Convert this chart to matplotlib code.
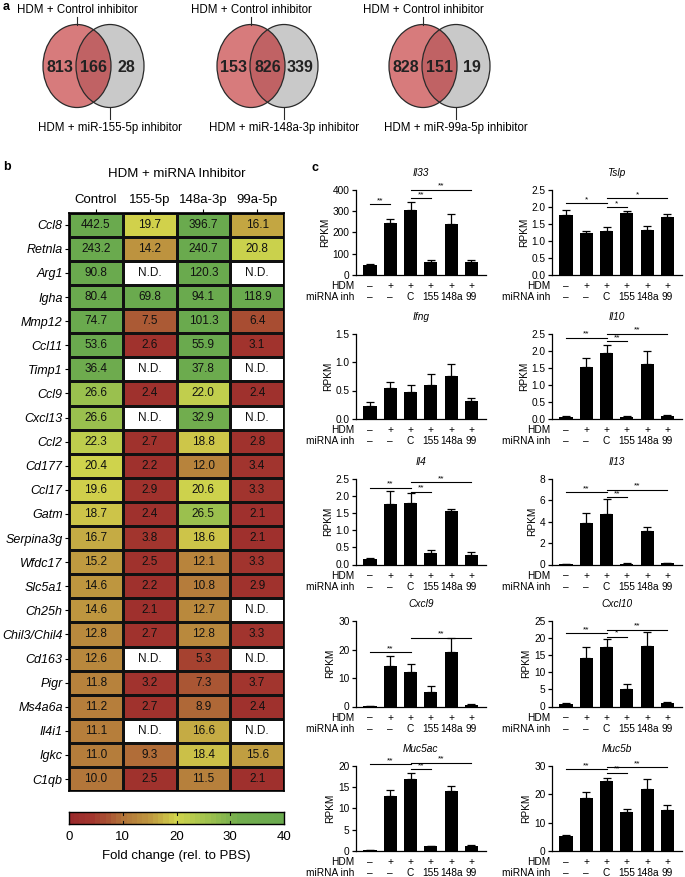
import numpy as np
import matplotlib
matplotlib.use("Agg")
import matplotlib.pyplot as plt
from matplotlib.patches import Ellipse
from matplotlib.colors import LinearSegmentedColormap
import matplotlib.transforms as mtransforms

plt.rcParams['font.family'] = ['Liberation Sans', 'DejaVu Sans']

# ---- panel a: Venn counts ----
venn_only_ctrl = [813, 153, 828]
venn_shared = [166, 826, 151]
venn_only_inh = [28, 339, 19]
venn_ctrl_name = "HDM + Control inhibitor"
venn_inh_names = ["HDM + miR-155-5p inhibitor", "HDM + miR-148a-3p inhibitor",
                  "HDM + miR-99a-5p inhibitor"]

# ---- panel b: heatmap fold changes (nan = N.D.) ----
genes = ["Ccl8", "Retnla", "Arg1", "Igha", "Mmp12", "Ccl11", "Timp1", "Ccl9", "Cxcl13",
         "Ccl2", "Cd177", "Ccl17", "Gatm", "Serpina3g", "Wfdc17", "Slc5a1", "Ch25h",
         "Chil3/Chil4", "Cd163", "Pigr", "Ms4a6a", "Il4i1", "Igkc", "C1qb"]
conditions = ["Control", "155-5p", "148a-3p", "99a-5p"]
nd = np.nan
fc_control = [442.5, 243.2, 90.8, 80.4, 74.7, 53.6, 36.4, 26.6, 26.6, 22.3, 20.4, 19.6,
              18.7, 16.7, 15.2, 14.6, 14.6, 12.8, 12.6, 11.8, 11.2, 11.1, 11.0, 10.0]
fc_155 = [19.7, 14.2, nd, 69.8, 7.5, 2.6, nd, 2.4, nd, 2.7, 2.2, 2.9,
          2.4, 3.8, 2.5, 2.2, 2.1, 2.7, nd, 3.2, 2.7, nd, 9.3, 2.5]
fc_148a = [396.7, 240.7, 120.3, 94.1, 101.3, 55.9, 37.8, 22.0, 32.9, 18.8, 12.0, 20.6,
           26.5, 18.6, 12.1, 10.8, 12.7, 12.8, 5.3, 7.3, 8.9, 16.6, 18.4, 11.5]
fc_99a = [16.1, 20.8, nd, 118.9, 6.4, 3.1, nd, 2.4, nd, 2.8, 3.4, 3.3,
          2.1, 2.1, 3.3, 2.9, nd, 3.3, nd, 3.7, 2.4, nd, 15.6, 2.1]

# ---- panel c: RPKM bars ----
hdm_row = ["\u2013", "+", "+", "+", "+", "+"]
inh_row = ["\u2013", "\u2013", "C", "155", "148a", "99"]

bar_genes = ["Il33", "Tslp", "Ifng", "Il10", "Il4", "Il13", "Cxcl9", "Cxcl10", "Muc5ac", "Muc5b"]
bar_means = {
    "Il33": [45, 245, 305, 60, 240, 62],
    "Tslp": [1.76, 1.23, 1.29, 1.81, 1.33, 1.71],
    "Ifng": [0.22, 0.55, 0.48, 0.60, 0.75, 0.32],
    "Il10": [0.07, 1.53, 1.93, 0.07, 1.62, 0.08],
    "Il4": [0.15, 1.78, 1.80, 0.33, 1.55, 0.29],
    "Il13": [0.02, 3.85, 4.70, 0.08, 3.10, 0.10],
    "Cxcl9": [0.2, 14.3, 12.2, 5.2, 19.0, 0.7],
    "Cxcl10": [0.8, 14.1, 17.3, 5.0, 17.8, 1.1],
    "Muc5ac": [0.2, 12.8, 16.9, 1.1, 14.0, 1.3],
    "Muc5b": [5.2, 18.5, 24.6, 13.7, 22.0, 14.3],
}
bar_errs = {
    "Il33": [8, 18, 35, 8, 45, 8],
    "Tslp": [0.15, 0.07, 0.12, 0.07, 0.11, 0.07],
    "Ifng": [0.07, 0.10, 0.11, 0.19, 0.22, 0.04],
    "Il10": [0.03, 0.25, 0.23, 0.03, 0.38, 0.03],
    "Il4": [0.05, 0.37, 0.30, 0.08, 0.08, 0.07],
    "Il13": [0.02, 0.95, 1.45, 0.04, 0.40, 0.05],
    "Cxcl9": [0.1, 3.5, 2.6, 2.0, 5.1, 0.2],
    "Cxcl10": [0.2, 3.3, 2.3, 1.6, 3.9, 0.2],
    "Muc5ac": [0.1, 1.6, 1.3, 0.15, 1.2, 0.2],
    "Muc5b": [0.6, 2.2, 1.2, 1.2, 3.2, 2.0],
}
bar_ymax = {"Il33": 400, "Tslp": 2.5, "Ifng": 1.5, "Il10": 2.5, "Il4": 2.5,
            "Il13": 8, "Cxcl9": 30, "Cxcl10": 25, "Muc5ac": 20, "Muc5b": 30}
bar_ystep = {"Il33": 100, "Tslp": 0.5, "Ifng": 0.5, "Il10": 0.5, "Il4": 0.5,
             "Il13": 2, "Cxcl9": 10, "Cxcl10": 5, "Muc5ac": 5, "Muc5b": 10}
# (bar i, bar j, height, label)
bar_sig = {
    "Il33": [(0, 1, 330, "**"), (2, 3, 360, "**"), (2, 5, 400, "**")],
    "Tslp": [(0, 2, 2.10, "*"), (2, 3, 1.98, "*"), (2, 5, 2.25, "*")],
    "Ifng": [],
    "Il10": [(0, 2, 2.38, "**"), (2, 3, 2.27, "**"), (2, 5, 2.50, "**")],
    "Il4": [(0, 2, 2.25, "**"), (2, 3, 2.13, "**"), (2, 5, 2.40, "**")],
    "Il13": [(0, 2, 6.75, "**"), (2, 3, 6.30, "**"), (2, 5, 7.00, "**")],
    "Cxcl9": [(0, 2, 19.0, "**"), (2, 5, 24.2, "**")],
    "Cxcl10": [(0, 2, 21.5, "**"), (2, 3, 20.4, "*"), (2, 5, 22.5, "**")],
    "Muc5ac": [(0, 2, 20.4, "**"), (2, 3, 19.2, "**"), (2, 5, 20.7, "**")],
    "Muc5b": [(0, 2, 28.7, "**"), (2, 3, 27.5, "**"), (2, 5, 29.4, "**")],
}

W, H = 685, 877
fig = plt.figure(figsize=(W / 100, H / 100), dpi=100)


def px_axes(x0, y0, w, h):
    # rect given in pixels from top-left
    return fig.add_axes([x0 / W, 1 - (y0 + h) / H, w / W, h / H])


# ================= panel a =================
ax_a = px_axes(0, 0, W, 140)
ax_a.set_xlim(0, W)
ax_a.set_ylim(140, 0)
ax_a.axis("off")
venn_x = [77, 251, 423]
venn_w, venn_h, venn_off, venn_y = 68, 83, 33, 66
for k in range(3):
    cx = venn_x[k]
    left = Ellipse((cx, venn_y), venn_w, venn_h, facecolor="#d77b7c", edgecolor="none")
    right = Ellipse((cx + venn_off, venn_y), venn_w, venn_h, facecolor="#c9c9c9", edgecolor="none")
    ax_a.add_patch(left)
    ax_a.add_patch(right)
    inter = Ellipse((cx + venn_off, venn_y), venn_w, venn_h, facecolor="#c06264", edgecolor="none")
    ax_a.add_patch(inter)
    inter.set_clip_path(left)
    for ex in (cx, cx + venn_off):
        ax_a.add_patch(Ellipse((ex, venn_y), venn_w, venn_h, facecolor="none",
                               edgecolor="#2a2a2a", lw=0.9))
    nums = [venn_only_ctrl[k], venn_shared[k], venn_only_inh[k]]
    xs = [cx - 17, cx + venn_off / 2, cx + venn_off + 16]
    for xx, n in zip(xs, nums):
        ax_a.text(xx, venn_y + 1, str(n), ha="center", va="center", fontsize=11.5,
                  fontweight="bold", color="#222222")
    ax_a.text(cx, 10, venn_ctrl_name, ha="center", va="center", fontsize=8.3)
    ax_a.plot([cx, cx], [17, venn_y - venn_h / 2], color="#2a2a2a", lw=0.8)
    ax_a.text(cx + venn_off, 128, venn_inh_names[k], ha="center", va="center", fontsize=8.3)
    ax_a.plot([cx + venn_off, cx + venn_off], [venn_y + venn_h / 2, 119], color="#2a2a2a", lw=0.8)
ax_a.text(3, 7, "a", ha="left", va="center", fontsize=9, fontweight="bold")

# ================= panel b =================
fig.text(3 / W, 1 - 167 / H, "b", ha="left", va="center", fontsize=9, fontweight="bold")
data = np.array([fc_control, fc_155, fc_148a, fc_99a]).T
cmap = LinearSegmentedColormap.from_list("fc", [
    (0.0, "#9a2a2c"), (0.10, "#a3362e"), (0.18, "#aa5634"), (0.25, "#b3763a"),
    (0.38, "#bf9a40"), (0.50, "#d2d44c"), (0.62, "#a8c64e"), (0.80, "#72ad4e"),
    (1.0, "#6aaa4e")])
cmap.set_bad("white")
ax_b = px_axes(69, 212.7, 215, 24.1 * len(genes))
masked = np.ma.masked_invalid(data)
ax_b.pcolormesh(masked, cmap=cmap, vmin=0, vmax=40, edgecolors="#111111", linewidth=1.0)
ax_b.set_xlim(0, len(conditions))
ax_b.set_ylim(len(genes), 0)
for i in range(len(genes)):
    for j in range(len(conditions)):
        v = data[i, j]
        ax_b.text(j + 0.5, i + 0.5, "N.D." if np.isnan(v) else f"{v:.1f}",
                  ha="center", va="center", fontsize=8.5, color="#111111")
ax_b.set_yticks(np.arange(len(genes)) + 0.5)
ax_b.set_yticklabels(genes, fontsize=9, style="italic")
ax_b.set_xticks(np.arange(len(conditions)) + 0.5)
ax_b.set_xticklabels(conditions, fontsize=9.5)
ax_b.xaxis.tick_top()
ax_b.tick_params(axis="both", length=3, width=0.8, pad=1.5)
for s in ax_b.spines.values():
    s.set_linewidth(1.2)
ax_b.set_title("HDM + miRNA Inhibitor", fontsize=9.5, pad=26)

ax_cb = px_axes(69, 812, 215, 12)
grad = np.linspace(0, 40, 41).reshape(1, -1)
ax_cb.pcolormesh(np.linspace(0, 40, 42), [0, 1], grad, cmap=cmap, vmin=0, vmax=40)
ax_cb.set_xlim(0, 40)
ax_cb.set_ylim(0, 1)
ax_cb.set_yticks([])
ax_cb.set_xticks([0, 10, 20, 30, 40])
ax_cb.tick_params(axis="x", labelsize=9.5, length=0, pad=5)
for t in [10, 20, 30]:
    ax_cb.plot([t, t], [0, 0.25], color="#111111", lw=0.8)
    ax_cb.plot([t, t], [0.75, 1], color="#111111", lw=0.8)
for s in ax_cb.spines.values():
    s.set_linewidth(1.0)
ax_cb.set_xlabel("Fold change (rel. to PBS)", fontsize=9.5, labelpad=5)

# ================= panel c =================
fig.text(311 / W, 1 - 168 / H, "c", ha="left", va="center", fontsize=9, fontweight="bold")
col_x = [355.7, 551.7]
row_top = [189.5, 333.5, 479, 621, 765.7]
ax_w, ax_h = 130, 85.5
pos = np.arange(6)
for idx, g in enumerate(bar_genes):
    r, c = divmod(idx, 2)
    ax = px_axes(col_x[c], row_top[r], ax_w, ax_h)
    ax.bar(pos, bar_means[g], width=0.65, color="black")
    ax.errorbar(pos, bar_means[g], yerr=[np.zeros(6), bar_errs[g]], fmt="none",
                ecolor="black", elinewidth=0.9, capsize=3, capthick=0.9)
    ax.set_xlim(-0.7, 5.7)
    ax.set_ylim(0, bar_ymax[g])
    ax.set_yticks(np.arange(0, bar_ymax[g] + bar_ystep[g] / 2, bar_ystep[g]))
    if bar_ystep[g] < 1:
        ax.yaxis.set_major_formatter(matplotlib.ticker.FormatStrFormatter("%.1f"))
    ax.set_xticks([])
    ax.spines["top"].set_visible(False)
    ax.spines["right"].set_visible(False)
    ax.spines["left"].set_linewidth(0.9)
    ax.spines["bottom"].set_linewidth(0.9)
    ax.tick_params(axis="y", labelsize=7.3, length=3, width=0.9, pad=1.5)
    ax.set_ylabel("RPKM", fontsize=7.3, labelpad=2)
    ax.set_title(g, fontsize=7.3, style="italic", pad=10)
    trans = mtransforms.blended_transform_factory(ax.transData, ax.transAxes)
    for p in range(6):
        ax.text(p, -0.13, hdm_row[p], transform=trans, ha="center", va="center", fontsize=7.3)
        ax.text(p, -0.26, inh_row[p], transform=trans, ha="center", va="center", fontsize=7.3)
    ax.text(-0.75, -0.13, "HDM", transform=trans, ha="right", va="center", fontsize=7.3)
    ax.text(-0.75, -0.26, "miRNA inh", transform=trans, ha="right", va="center", fontsize=7.3)
    for i, j, h, lab in bar_sig[g]:
        ax.plot([i, j], [h, h], color="black", lw=0.8, clip_on=False)
        ax.text((i + j) / 2, h, lab, ha="center", va="bottom", fontsize=6, clip_on=False)

fig.savefig("out.png", dpi=100)
